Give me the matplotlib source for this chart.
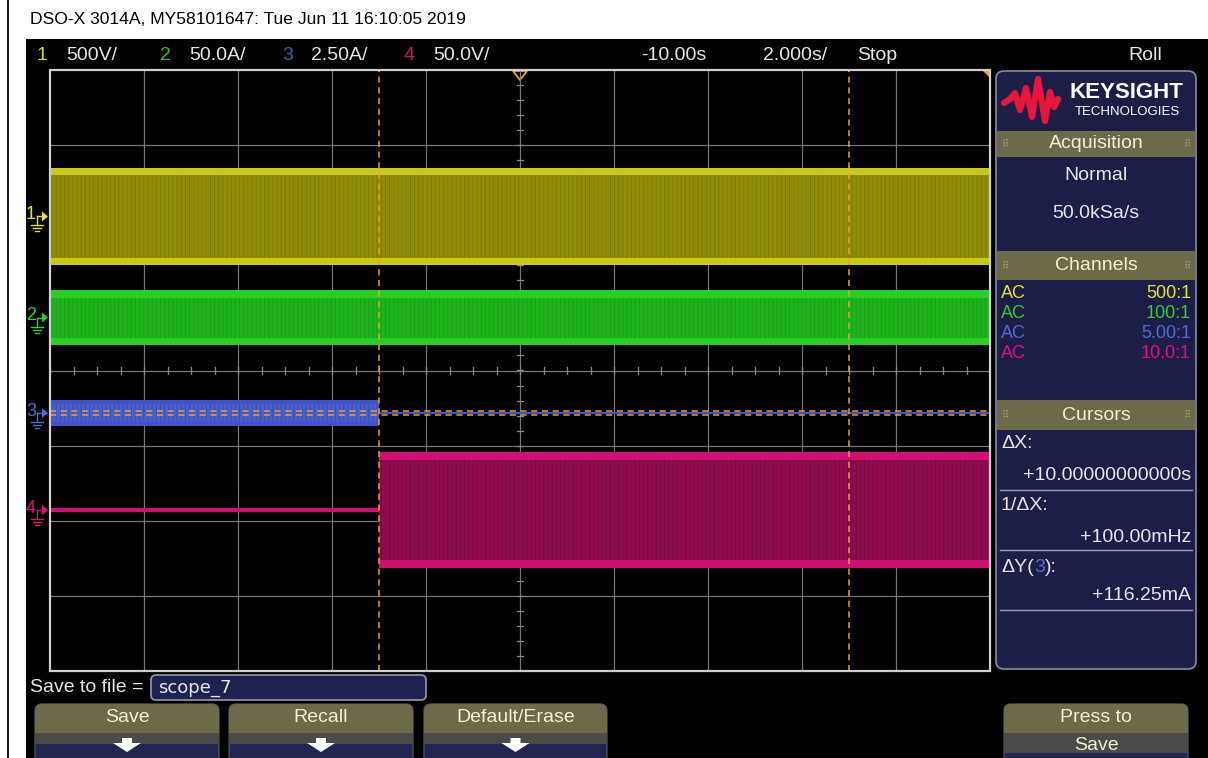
import numpy as np
import matplotlib.pyplot as plt
from matplotlib.patches import Rectangle, FancyBboxPatch, Polygon

plt.rcParams['font.family'] = ['Liberation Sans', 'DejaVu Sans']
plt.rcParams['hatch.linewidth'] = 0.7

# horizontal / vertical setup
t_delay = -10.0
t_per_div = 2.0
n_xdiv, n_ydiv = 10, 8
ch_labels = ['1', '2', '3', '4']
ch_scale = [500.0, 50.0, 2.5, 50.0]
ch_unit = ['V', 'A', 'A', 'V']
ch_ground = [2.05, 0.705, -0.566, -1.857]    # ground level, divisions from centre
ch_probe = ['500:1', '100:1', '5.00:1', '10.0:1']
ch_coupling = ['AC', 'AC', 'AC', 'AC']
ch_color = ['#e4e42c', '#2cd02c', '#5668d4', '#e0127a']

# min/max envelope of each trace (time in s, value in channel units)
ch1_t = [-20.0, 0.0]
ch1_hi = [325.0, 325.0]
ch1_lo = [-325.0, -325.0]
ch2_t = [-20.0, 0.0]
ch2_hi = [18.3, 18.3]
ch2_lo = [-18.3, -18.3]
ch3_t = [-20.0, -13.0, -13.0, 0.0]
ch3_hi = [0.43, 0.43, 0.035, 0.035]
ch3_lo = [-0.44, -0.44, -0.035, -0.035]
ch4_t = [-20.0, -13.0, -13.0, 0.0]
ch4_hi = [1.4, 1.4, 38.6, 38.6]
ch4_lo = [-1.4, -1.4, -38.6, -38.6]

cursor_x = [-13.0, -3.0]          # s
cursor_y_ma = [58.125, -58.125]   # mA, on channel 3
sample_rate = '50.0kSa/s'

W, H = 1208, 758
GX0, GX1, GY0, GY1 = 50, 990, 70, 671
t0 = t_delay - n_xdiv / 2 * t_per_div
t1 = t_delay + n_xdiv / 2 * t_per_div


def px_t(t):
    return GX0 + (t - t0) / (t1 - t0) * (GX1 - GX0)


def px_div(d):
    return (GY0 + GY1) / 2 - d * (GY1 - GY0) / n_ydiv


def fmt_scale(v):
    return f'{v:#.3g}'.rstrip('.')


fig = plt.figure(figsize=(W / 100, H / 100), dpi=100)
fig.patch.set_facecolor('white')
ui = fig.add_axes([0, 0, 1, 1], zorder=0)
ui.set_xlim(0, W)
ui.set_ylim(H, 0)
ui.axis('off')

ui.add_patch(Rectangle((26, 39), W - 26, H - 39, fc='black', ec='none'))
ui.plot([8, 8], [0, H], color='black', lw=1.3)
ui.text(30, 19, 'DSO-X 3014A, MY58101647: Tue Jun 11 16:10:05 2019',
        fontsize=12.6, fontstretch='condensed', va='center', ha='left', color='black')

# status line
txt = '#e6e6e6'
hdr_x = [37, 160, 282, 404]
hdr_num = ['#d8d828', '#34c034', '#4a5aa8', '#d4126e']
for k in range(4):
    ui.text(hdr_x[k], 55, ch_labels[k], color=hdr_num[k], fontsize=14, va='center')
    ui.text(hdr_x[k] + 29, 55, fmt_scale(ch_scale[k]) + ch_unit[k] + '/',
            color=txt, fontsize=14, va='center')
ui.text(641, 55, f'{t_delay:.2f}s', color=txt, fontsize=14, va='center')
ui.text(763, 55, f'{t_per_div:.3f}s/', color=txt, fontsize=14, va='center')
ui.text(857, 55, 'Stop', color=txt, fontsize=14, va='center')
ui.text(1128, 55, 'Roll', color=txt, fontsize=14, va='center')

# graticule and traces
ax = fig.add_axes([GX0 / W, 1 - GY1 / H, (GX1 - GX0) / W, (GY1 - GY0) / H], zorder=1)
ax.set_xlim(t0, t1)
ax.set_ylim(-n_ydiv / 2, n_ydiv / 2)
ax.axis('off')
ax.patch.set_alpha(0)

for i in range(1, n_xdiv):
    ax.axvline(t0 + i * t_per_div, color='#767676', lw=0.9, zorder=1)
for j in range(1, n_ydiv):
    ax.axhline(-n_ydiv / 2 + j, color='#767676', lw=0.9, zorder=1)
for t in np.arange(t0, t1, t_per_div / 4):
    ax.plot([t, t], [-0.05, 0.05], color='#8a8a8a', lw=0.9, zorder=1)
for d in np.arange(-n_ydiv / 2, n_ydiv / 2, 0.2):
    ax.plot([t_delay - 0.07, t_delay + 0.07], [d, d], color='#8a8a8a', lw=0.9, zorder=1)
ax.add_patch(Rectangle((0, 0), 1, 1, transform=ax.transAxes, fill=False,
                       ec='#cfcfcf', lw=1.6, zorder=10, clip_on=False))


def draw_band(t, hi, lo, k, edge, core, streak, rim=0.1):
    t = np.asarray(t)
    yh = ch_ground[k] + np.asarray(hi) / ch_scale[k]
    yl = ch_ground[k] + np.asarray(lo) / ch_scale[k]
    ax.fill_between(t, yl, yh, color=edge, lw=0, zorder=3)
    wide = (yh - yl) > 3 * rim
    ax.fill_between(t, yl + rim, yh - rim, where=wide, color=core, lw=0, zorder=4)
    ax.fill_between(t, yl + rim, yh - rim, where=wide, facecolor='none',
                    edgecolor=streak, hatch='||||', lw=0, zorder=5)


draw_band(ch1_t, ch1_hi, ch1_lo, 0, '#c8c816', '#908e08', '#7e7c00')
draw_band(ch2_t, ch2_hi, ch2_lo, 1, '#28ce24', '#20b41e', '#1aa018')
draw_band(ch3_t, ch3_hi, ch3_lo, 2, '#3f52c8', '#4a5ed0', '#3a4cb8', rim=0.05)
draw_band(ch4_t, ch4_hi, ch4_lo, 3, '#d01070', '#8e0c4e', '#7a0a42')

cur_c = '#f0a030'
for cx in cursor_x:
    ax.axvline(cx, color=cur_c, lw=1.1, dashes=(4, 3), zorder=8)
for cy in cursor_y_ma:
    ax.axhline(ch_ground[2] + cy / 1000 / ch_scale[2], color=cur_c, lw=1.1,
               dashes=(4, 3), zorder=8)

# trigger position and ground markers
tx = px_t(t_delay)
ui.add_patch(Polygon([(tx - 7, GY0 + 1), (tx + 7, GY0 + 1), (tx, GY0 + 10)],
                     closed=True, fill=False, ec=cur_c, lw=1.3, zorder=5))
ui.add_patch(Polygon([(GX1 - 8, GY0), (GX1, GY0), (GX1, GY0 + 8)],
                     closed=True, fc=cur_c, ec='none', zorder=5))
for k in range(4):
    gy = px_div(ch_ground[k])
    c = ch_color[k]
    ui.text(31, gy - 2, ch_labels[k], color=c, fontsize=13, ha='center', va='center')
    ui.add_patch(Polygon([(42, gy - 5), (48, gy), (42, gy + 5)], closed=True, fc=c, ec='none'))
    ui.plot([37, 42], [gy, gy], color=c, lw=1)
    ui.plot([37, 37], [gy, gy + 9], color=c, lw=1)
    for n, w in enumerate([6, 4, 2]):
        ui.plot([37 - w, 37 + w], [gy + 9 + 3 * n] * 2, color=c, lw=1)

# side panel
navy = '#1c1e48'
olive = '#6c6a48'
cream = '#f2f0d4'
ui.add_patch(FancyBboxPatch((996, 71), 200, 598, boxstyle='round,pad=0,rounding_size=8',
                            fc=navy, ec='#8a8ca0', lw=1.2))
logo_x = [1004, 1010, 1015, 1020, 1026, 1032, 1038, 1045, 1050, 1054, 1058]
logo_y = [103, 99, 93, 110, 88, 117, 79, 121, 92, 107, 99]
ui.plot(logo_x, logo_y, color='#e8163c', lw=4.5, solid_joinstyle='round', solid_capstyle='round')
ui.text(1126, 92, 'KEYSIGHT', color='white', fontsize=16, weight='bold', ha='center', va='center')
ui.text(1127, 112, 'TECHNOLOGIES', color='white', fontsize=9.5, ha='center', va='center')


def section(y0, y1, title):
    ui.add_patch(Rectangle((997, y0), 198, y1 - y0, fc=olive, ec='none'))
    ym = (y0 + y1) / 2
    ui.text(1096, ym, title, color=cream, fontsize=14, ha='center', va='center')
    for xd in (1005, 1187):
        ui.text(xd, ym, '\u283f', color='#a8a68a', fontsize=7, ha='center', va='center',
                family='DejaVu Sans')


section(131, 157, 'Acquisition')
ui.text(1096, 175, 'Normal', color=txt, fontsize=14, ha='center', va='center')
ui.text(1096, 213, sample_rate, color=txt, fontsize=14, ha='center', va='center')

section(251, 280, 'Channels')
for k in range(4):
    y = 293 + 20 * k
    ui.text(1001, y, ch_coupling[k], color=ch_color[k], fontsize=13, va='center')
    ui.text(1191, y, ch_probe[k], color=ch_color[k], fontsize=13, ha='right', va='center')

section(400, 430, 'Cursors')
dx = cursor_x[1] - cursor_x[0]
dy = cursor_y_ma[0] - cursor_y_ma[1]
ui.text(1001, 444, '\u0394X:', color=txt, fontsize=14, va='center')
ui.text(1191, 476, f'{dx:+.11f}s', color=txt, fontsize=14, ha='right', va='center')
ui.text(1001, 506, '1/\u0394X:', color=txt, fontsize=14, va='center')
ui.text(1191, 537, f'{1000 / dx:+.2f}mHz', color=txt, fontsize=14, ha='right', va='center')
t_dy = ui.text(1001, 568, '\u0394Y(', color=txt, fontsize=14, va='center')
t3 = ui.annotate('3', xycoords=t_dy, xy=(1, 0.5), va='center', color=ch_color[2], fontsize=14)
ui.annotate('):', xycoords=t3, xy=(1, 0.5), va='center', color=txt, fontsize=14)
ui.text(1191, 596, f'{dy:+.2f}mA', color=txt, fontsize=14, ha='right', va='center')
for y in (490, 550, 610):
    ui.plot([1000, 1192], [y, y], color='#9a9cb0', lw=1)

# soft-key row
ui.text(30, 688, 'Save to file =', color=txt, fontsize=14, va='center')
ui.add_patch(FancyBboxPatch((151, 675), 275, 25, boxstyle='round,pad=0,rounding_size=5',
                            fc='#1e2252', ec='#9a9aa8', lw=1.2))
ui.text(158, 688, 'scope_7', color=txt, fontsize=13, va='center', family='DejaVu Sans')


def soft_key(x0, x1, top_label, bottom_label=None):
    base = FancyBboxPatch((x0, 704), x1 - x0, 70, boxstyle='round,pad=0,rounding_size=7',
                          fc='#222650', ec='#4a4c5a', lw=1)
    ui.add_patch(base)
    for y0, h, c in ((704, 29, olive), (733, 11 if bottom_label is None else 20, '#4a4a48')):
        r = Rectangle((x0, y0), x1 - x0, h, fc=c, ec='none')
        ui.add_patch(r)
        r.set_clip_path(base)
    xm = (x0 + x1) / 2
    ui.text(xm, 717, top_label, color=cream, fontsize=14, ha='center', va='center')
    if bottom_label is None:
        ui.add_patch(Polygon([(xm - 5, 738), (xm + 5, 738), (xm + 5, 743), (xm + 14, 743),
                              (xm, 752), (xm - 14, 743), (xm - 5, 743)], closed=True,
                             fc='white', ec='none'))
    else:
        ui.text(xm, 745, bottom_label, color=cream, fontsize=14, ha='center', va='center')


soft_key(35, 219, 'Save')
soft_key(229, 413, 'Recall')
soft_key(424, 607, 'Default/Erase')
soft_key(1004, 1188, 'Press to', 'Save')

fig.savefig('out.png', dpi=100, facecolor='white')
